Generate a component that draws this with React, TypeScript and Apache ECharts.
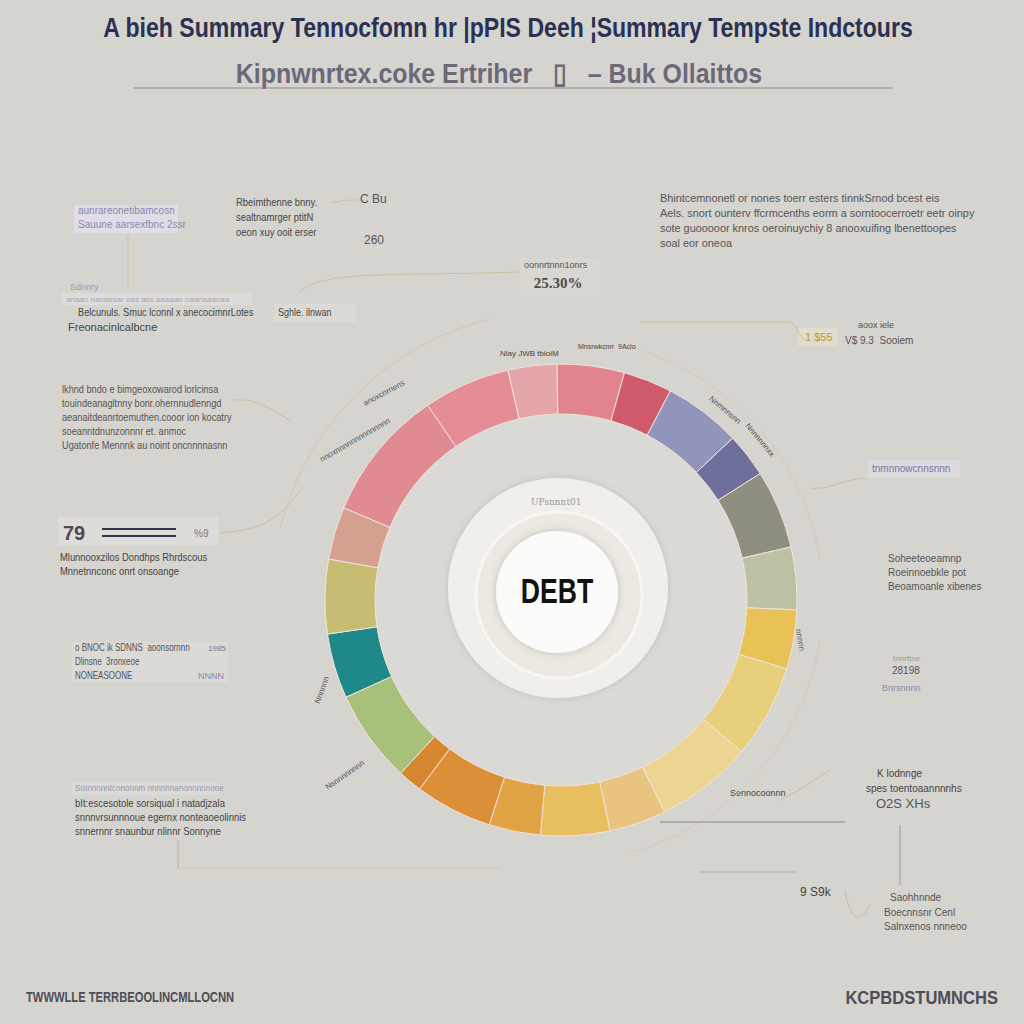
import React, { useEffect, useRef } from "react";
import * as echarts from "echarts";

// ---- data ----
const segmentNames = [
  "Pink A", "Red", "Lavender", "Dark lavender", "Gray", "Sage", "Yellow",
  "Light yellow", "Pale yellow", "Peach", "Amber", "Light orange", "Orange",
  "Dark orange", "Green", "Teal", "Olive", "Salmon", "Pink B", "Pink C", "Light pink",
];
const segmentValues = [
  16.6, 12, 19.1, 10.9, 19.4, 15.4, 14.6, 23, 24, 14, 17, 12.7, 19.1, 6, 22.9, 16, 18.3, 13, 32.6, 21.4, 12,
];
const segmentColors = [
  "#e1848d", "#cf5a6a", "#9295bb", "#6f6f9b", "#8e8e81", "#bcc1a3", "#e8c257",
  "#e8cf7c", "#ecd593", "#e9c47e", "#e7bf5f", "#e1a445", "#dc8f37", "#d5882f",
  "#a8c17a", "#1f8888", "#c7bd72", "#d6a091", "#e08b91", "#e48d95", "#e5a6ab",
];

const titleText = "A bieh Summary Tennocfomn hr |pPIS Deeh ¦Summary Tempste Indctours";
const subtitleText = "Kipnwnrtex.coke Ertriher   ▯   – Buk Ollaittos";
const centerLabel = "DEBT";
const headlineValue = "25.30%";
const leftValue = "79";
const footerLeft = "TWWWLLE TERRBEOOLINCMLLOCNN";
const footerRight = "KCPBDSTUMNCHS";

type Note = { x: number; y: number; lines: string[]; size?: number; color?: string; sx?: number };
const notes: Note[] = [
  { x: 78, y: 210, lines: ["aunrareonetibamcosn", "Sauune aarsexfbnc 2ssr"], size: 10, color: "#8c88ad" },
  { x: 236, y: 202, lines: ["Rbeimthenne bnny.", "sealtnamrger ptitN", "oeon xuy ooit erser"], size: 11, color: "#444444", sx: 0.86 },
  { x: 360, y: 199, lines: ["C Bu"], size: 12, color: "#555555" },
  { x: 364, y: 240, lines: ["260"], size: 12, color: "#555555" },
  { x: 70, y: 287, lines: ["Sdnnry"], size: 9, color: "#9a98b4" },
  { x: 66, y: 299, lines: ["anaan nanaesar oas ass aaaaan naanaaanaa"], size: 8, color: "#a8a6b0" },
  { x: 78, y: 312, lines: ["Belcunuls. Smuc lconnl x anecocimnrLotes"], size: 11, color: "#444444", sx: 0.84 },
  { x: 68, y: 327, lines: ["Freonacinlcalbcne"], size: 11, color: "#444444" },
  { x: 278, y: 312, lines: ["Sghle. ilnwan"], size: 10, color: "#444444", sx: 0.9 },
  { x: 660, y: 198, lines: [
    "Bhintcemnonetl or nones toerr esters tinnkSrnod bcest eis",
    "Aels. snort ounterv ffcrmcenths eorm a sorntoocerroetr eetr oinpy",
    "sote guooooor knros oeroinuychiy 8 anooxuifing lbenettoopes",
    "soal eor oneoa",
  ], size: 11, color: "#555555", sx: 0.99 },
  { x: 524, y: 265, lines: ["oonnrtnnn1onrs"], size: 9, color: "#555555" },
  { x: 858, y: 325, lines: ["aoox iele"], size: 9, color: "#555555" },
  { x: 845, y: 340, lines: ["V$ 9.3  Sooiem"], size: 10, color: "#555555" },
  { x: 805, y: 337, lines: ["1 $55"], size: 11, color: "#b89a30" },
  { x: 62, y: 389, lines: [
    "lkhnd bndo e bimgeoxowarod lorlcinsa",
    "touindeanagltnny bonr.ohernnudlenngd",
    "aeanaitdeanrtoemuthen.cooor ion kocatry",
    "soeanntdnunzonnnr et. anmoc",
    "Ugatonfe Mennnk au noint oncnnnnasnn",
  ], size: 10, color: "#555555", sx: 0.92 },
  { x: 194, y: 533, lines: ["%9"], size: 10, color: "#777777" },
  { x: 60, y: 557, lines: ["Mlunnooxzilos Dondhps Rhrdscous", "Mnnetnnconc onrt onsoange"], size: 10, color: "#444444", sx: 0.94 },
  { x: 75, y: 648, lines: ["o BNOC ik SDNNS  aoonsornnn", "Dlinsne  3ronxeoe", "NONEASOONE"], size: 10, color: "#555555", sx: 0.8 },
  { x: 208, y: 648, lines: ["1985"], size: 8, color: "#777777" },
  { x: 198, y: 676, lines: ["NNNN"], size: 9, color: "#8c88ad" },
  { x: 75, y: 788, lines: ["Sotnnnnntcnnonnm nnnnnnanonnnnnooe"], size: 9, color: "#9a98a4", sx: 0.9 },
  { x: 75, y: 803, lines: ["bIt:escesotole sorsiqual i natadjzala", "snnnvrsunnnoue egernx nonteaoeolinnis", "snnernnr snaunbur nlinnr Sonnyne"], size: 10, color: "#444444", sx: 0.95 },
  { x: 872, y: 468, lines: ["tnmnnowcnnsnnn"], size: 10, color: "#7a76a0" },
  { x: 888, y: 558, lines: ["Soheeteoeamnp", "Roeinnoebkle pot", "Beoamoanle xibenes"], size: 10, color: "#555555" },
  { x: 893, y: 658, lines: ["tnnrttne"], size: 8, color: "#999999" },
  { x: 892, y: 670, lines: ["28198"], size: 10, color: "#555555" },
  { x: 882, y: 688, lines: ["Bnrsnnnn"], size: 9, color: "#8c88ad" },
  { x: 877, y: 773, lines: ["K lodnnge"], size: 10, color: "#444444" },
  { x: 866, y: 788, lines: ["spes toentoaannnnhs"], size: 10, color: "#444444" },
  { x: 876, y: 803, lines: ["O2S XHs"], size: 13, color: "#555555" },
  { x: 730, y: 793, lines: ["Sennocoonnn"], size: 9, color: "#444444" },
  { x: 800, y: 892, lines: ["9 S9k"], size: 12, color: "#444444" },
  { x: 890, y: 897, lines: ["Saohhnnde"], size: 10, color: "#555555" },
  { x: 884, y: 912, lines: ["Boecnnsnr Cenl", "Salnxenos nnneoo"], size: 10, color: "#555555" },
  { x: 585, y: 440, lines: ["Wynhhn"], size: 9, color: "#444444" },
  { x: 500, y: 353, lines: ["Nlay JWB tbloiM"], size: 8, color: "#444444" },
  { x: 578, y: 346, lines: ["Mnsrwkcnrr  9Aclo"], size: 7, color: "#444444" },
];

type RotNote = { x: number; y: number; text: string; rot: number };
const ringNotes: RotNote[] = [
  { x: 384, y: 393, text: "anoxcnrnens", rot: 28 },
  { x: 355, y: 440, text: "nnoxnnnnnnnnnnnnnn", rot: 30 },
  { x: 725, y: 410, text: "Nnmnnsnn", rot: -40 },
  { x: 760, y: 440, text: "Nnnnnnnxx", rot: -50 },
  { x: 640, y: 460, text: "Nnnnnnnnnnnnnn", rot: -30 },
  { x: 322, y: 690, text: "Nnnnnn", rot: 70 },
  { x: 345, y: 775, text: "Nsnnnnnnnn", rot: 35 },
  { x: 640, y: 760, text: "nnnnn", rot: 60 },
  { x: 800, y: 640, text: "nnnnn", rot: -80 },
];

export default function App() {
  const ref = useRef<HTMLDivElement>(null);
  useEffect(() => {
    document.body.style.margin = "0";
    const chart = echarts.init(ref.current!, undefined, { renderer: "svg" });
    const cx = 561, cy = 600;
    const graphics: any[] = [];
    const narrowBold = "'Liberation Sans', Arimo, sans-serif";

    // inner circle shade and center disc
    graphics.push({ type: "circle", shape: { cx, cy, r: 186 }, style: { fill: "#dad9d5" }, z: 1 });
    graphics.push({ type: "circle", shape: { cx: 558, cy: 588, r: 110 }, style: { fill: "#f1efe9", shadowBlur: 6, shadowColor: "rgba(0,0,0,0.12)" }, z: 2 });
    graphics.push({ type: "circle", shape: { cx: 559, cy: 595, r: 83 }, style: { fill: "#ece9e2", stroke: "#f7f6f2", lineWidth: 3 }, z: 3 });
    graphics.push({ type: "circle", shape: { cx: 557, cy: 592, r: 61 }, style: { fill: "#fbfbf9", shadowBlur: 8, shadowColor: "rgba(0,0,0,0.18)" }, z: 4 });
    graphics.push({ type: "text", x: 557, y: 591, scaleX: 0.76, z: 5, style: { text: centerLabel, fill: "#111111", font: `bold 35px ${narrowBold}`, align: "center", verticalAlign: "middle" } });
    graphics.push({ type: "text", x: 531, y: 497, z: 5, style: { text: "UPsnnnt01", fill: "#9a9a9a", font: "9px 'DejaVu Serif', serif" } });

    // title, subtitle, rule
    graphics.push({ type: "text", x: 508, y: 27, scaleX: 0.824, style: { text: titleText, fill: "#2b3152", font: `bold 28px ${narrowBold}`, align: "center", verticalAlign: "middle" } });
    graphics.push({ type: "text", x: 499, y: 73, scaleX: 0.89, style: { text: subtitleText, fill: "#6b6979", font: `bold 28px ${narrowBold}`, align: "center", verticalAlign: "middle" } });
    graphics.push({ type: "line", shape: { x1: 133, y1: 88, x2: 893, y2: 88 }, style: { stroke: "#8a8a8e", lineWidth: 1.2 } });

    // faint highlight boxes
    const boxes = [
      [74, 205, 104, 28, "#dfdde6"], [62, 293, 190, 12, "#dedcda"], [274, 304, 82, 18, "#dcdad6"],
      [58, 517, 160, 28, "#dedcd8"], [72, 642, 156, 40, "#dcdad7"], [72, 783, 148, 12, "#dcdad8"],
      [868, 460, 92, 18, "#dddbe0"], [520, 258, 80, 38, "#d9d7d2"], [798, 328, 40, 18, "#e2dccc"],
    ];
    boxes.forEach((b: any) => graphics.push({ type: "rect", shape: { x: b[0], y: b[1], width: b[2], height: b[3] }, style: { fill: b[4] }, z: 0 }));

    // notes
    notes.forEach((n) => {
      const size = n.size || 10;
      n.lines.forEach((line, i) => {
        graphics.push({ type: "text", x: n.x, y: n.y + i * (size + 4), scaleX: n.sx || 1, style: { text: line, fill: n.color || "#555", font: `${size}px 'Liberation Sans', Arimo, sans-serif`, verticalAlign: "middle" } });
      });
    });
    ringNotes.forEach((r) => {
      graphics.push({ type: "text", x: r.x, y: r.y, rotation: (r.rot * Math.PI) / 180, style: { text: r.text, fill: "#555555", font: "8px 'Liberation Sans', sans-serif", align: "center", verticalAlign: "middle" } });
    });

    // big values
    graphics.push({ type: "text", x: 558, y: 283, style: { text: headlineValue, fill: "#4a4a4a", font: "bold 15px 'Liberation Serif', serif", align: "center", verticalAlign: "middle" } });
    graphics.push({ type: "text", x: 63, y: 533, style: { text: leftValue, fill: "#4a4a55", font: "bold 20px 'Liberation Sans', sans-serif", verticalAlign: "middle" } });
    graphics.push({ type: "line", shape: { x1: 102, y1: 529, x2: 176, y2: 529 }, style: { stroke: "#33334a", lineWidth: 2 } });
    graphics.push({ type: "line", shape: { x1: 102, y1: 536, x2: 176, y2: 536 }, style: { stroke: "#33334a", lineWidth: 2 } });

    // footer
    graphics.push({ type: "text", x: 26, y: 998, scaleX: 0.8, style: { text: footerLeft, fill: "#4d4d55", font: `bold 14px ${narrowBold}`, verticalAlign: "middle" } });
    graphics.push({ type: "text", x: 998, y: 998, scaleX: 0.92, style: { text: footerRight, fill: "#4d4d55", font: `bold 18px ${narrowBold}`, align: "right", verticalAlign: "middle" } });

    // leader lines
    const beige = "#cbbf9c";
    const gray = "#9a9a9a";
    const lines: any[] = [
      { type: "line", shape: { x1: 128, y1: 236, x2: 128, y2: 286 }, style: { stroke: beige, lineWidth: 1 } },
      { type: "bezierCurve", shape: { x1: 300, y1: 292, cpx1: 320, cpy1: 270, cpx2: 400, cpy2: 276, x2: 520, y2: 272 }, style: { stroke: beige, lineWidth: 1, fill: "none" } },
      { type: "bezierCurve", shape: { x1: 330, y1: 203, cpx1: 345, cpy1: 200, cpx2: 350, cpy2: 200, x2: 358, y2: 200 }, style: { stroke: beige, lineWidth: 1, fill: "none" } },
      { type: "line", shape: { x1: 640, y1: 322, x2: 790, y2: 322 }, style: { stroke: beige, lineWidth: 1 } },
      { type: "bezierCurve", shape: { x1: 790, y1: 322, cpx1: 796, cpy1: 324, cpx2: 797, cpy2: 334, x2: 805, y2: 340 }, style: { stroke: beige, lineWidth: 1, fill: "none" } },
      { type: "arc", shape: { cx, cy, r: 290, startAngle: Math.PI * 1.08, endAngle: Math.PI * 1.42 }, style: { stroke: "#d0c7ae", lineWidth: 1, fill: "none" } },
      { type: "arc", shape: { cx, cy, r: 262, startAngle: Math.PI * 1.6, endAngle: Math.PI * 1.95 }, style: { stroke: "#d2cbb6", lineWidth: 1, fill: "none" } },
      { type: "arc", shape: { cx, cy, r: 262, startAngle: Math.PI * 0.05, endAngle: Math.PI * 0.42 }, style: { stroke: "#d2cbb6", lineWidth: 1, fill: "none" } },
      { type: "bezierCurve", shape: { x1: 232, y1: 400, cpx1: 260, cpy1: 398, cpx2: 270, cpy2: 410, x2: 290, y2: 420 }, style: { stroke: beige, lineWidth: 1, fill: "none" } },
      { type: "bezierCurve", shape: { x1: 220, y1: 533, cpx1: 260, cpy1: 530, cpx2: 280, cpy2: 520, x2: 300, y2: 490 }, style: { stroke: beige, lineWidth: 1, fill: "none" } },
      { type: "bezierCurve", shape: { x1: 866, y1: 478, cpx1: 840, cpy1: 480, cpx2: 830, cpy2: 490, x2: 812, y2: 488 }, style: { stroke: beige, lineWidth: 1, fill: "none" } },
      { type: "line", shape: { x1: 660, y1: 822, x2: 845, y2: 822 }, style: { stroke: "#888888", lineWidth: 1.2 } },
      { type: "line", shape: { x1: 700, y1: 872, x2: 795, y2: 872 }, style: { stroke: "#b0aea8", lineWidth: 1 } },
      { type: "line", shape: { x1: 900, y1: 825, x2: 900, y2: 885 }, style: { stroke: gray, lineWidth: 1 } },
      { type: "line", shape: { x1: 178, y1: 840, x2: 178, y2: 868 }, style: { stroke: "#b8b0a0", lineWidth: 1 } },
      { type: "line", shape: { x1: 178, y1: 868, x2: 500, y2: 868 }, style: { stroke: "#d0c8b4", lineWidth: 1 } },
      { type: "bezierCurve", shape: { x1: 845, y1: 890, cpx1: 850, cpy1: 920, cpx2: 860, cpy2: 925, x2: 870, y2: 905 }, style: { stroke: beige, lineWidth: 1, fill: "none" } },
      { type: "bezierCurve", shape: { x1: 780, y1: 800, cpx1: 800, cpy1: 790, cpx2: 815, cpy2: 780, x2: 830, y2: 770 }, style: { stroke: beige, lineWidth: 1, fill: "none" } },
    ];
    graphics.push(...lines);

    const data = segmentValues.map((v, i) => ({ name: segmentNames[i], value: v, itemStyle: { color: segmentColors[i] } }));

    chart.setOption({
      animation: false,
      backgroundColor: "#d6d4cf",
      graphic: { elements: graphics },
      series: [
        {
          type: "pie",
          center: [cx, cy],
          radius: [186, 236],
          startAngle: 91,
          clockwise: true,
          label: { show: false },
          labelLine: { show: false },
          emphasis: { disabled: true },
          itemStyle: { borderColor: "#f1e3dc", borderWidth: 1 },
          data,
          z: 2,
        },
      ],
    });
    return () => chart.dispose();
  }, []);
  return <div ref={ref} style={{ width: 1024, height: 1024, position: "fixed", left: 0, top: 0 }} />;
}
